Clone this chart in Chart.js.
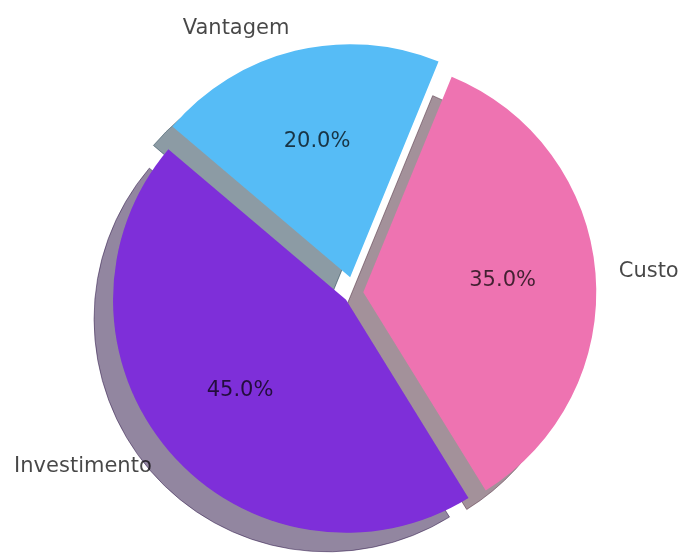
<!DOCTYPE html>
<html lang="pt">
<head>
  <meta charset="UTF-8" />
  <title>Pizza</title>
  <script src="https://cdn.jsdelivr.net/npm/chart.js"></script>
  <style>
    body { margin: 0; background: #fff; }
  </style>
</head>
<body>
  <canvas id="pie" width="684" height="556"></canvas>

  <script>
    const labels = ['Custo', 'Investimento', 'Vantagem'];
    const values = [35, 45, 20];
    const colors = ['#ee73b1', '#7e2fd9', '#56bcf6'];
    const explode = [0.04, 0.045, 0.07];

    const SHADOW_DX = -19;
    const SHADOW_DY = 19;
    const TEXT_COLOR = 'rgba(0,0,0,0.72)';
    const FONT = '21px "DejaVu Sans"';

    // matplotlib-style shadow: 0.3 * face colour, half transparent
    function shadowOf(hex) {
      const n = parseInt(hex.slice(1), 16);
      const r = Math.round(((n >> 16) & 255) * 0.3);
      const g = Math.round(((n >> 8) & 255) * 0.3);
      const b = Math.round((n & 255) * 0.3);
      return `rgba(${r},${g},${b},0.5)`;
    }

    function shift(arc, k) {
      const a = (arc.startAngle + arc.endAngle) / 2;
      const d = explode[k] * arc.outerRadius;
      return [Math.cos(a) * d, Math.sin(a) * d];
    }

    const explodePlugin = {
      id: 'explodeShadow',
      beforeDatasetDraw(chart, args) {
        const ctx = chart.ctx;
        const arcs = args.meta.data;
        // shadows first, under every wedge
        arcs.forEach((arc, k) => {
          const [dx, dy] = shift(arc, k);
          const sh = Object.create(arc);
          sh.options = Object.assign({}, arc.options, {
            backgroundColor: shadowOf(colors[k]),
            borderColor: shadowOf(colors[k]),
            borderWidth: 1
          });
          ctx.save();
          ctx.translate(dx + SHADOW_DX, dy + SHADOW_DY);
          sh.draw(ctx);
          ctx.restore();
        });
        arcs.forEach((arc, k) => {
          const [dx, dy] = shift(arc, k);
          ctx.save();
          ctx.translate(dx, dy);
          arc.draw(ctx);
          ctx.restore();
        });
        return false;
      },
      afterDatasetsDraw(chart) {
        const ctx = chart.ctx;
        const arcs = chart.getDatasetMeta(0).data;
        const total = values.reduce((s, v) => s + v, 0);
        ctx.save();
        ctx.font = FONT;
        ctx.fillStyle = TEXT_COLOR;
        ctx.textBaseline = 'middle';
        arcs.forEach((arc, k) => {
          const a = (arc.startAngle + arc.endAngle) / 2;
          const [dx, dy] = shift(arc, k);
          const cx = arc.x + dx, cy = arc.y + dy, r = arc.outerRadius;
          const lx = cx + Math.cos(a) * r * 1.1;
          const ly = cy + Math.sin(a) * r * 1.1;
          ctx.textAlign = Math.cos(a) > 0 ? 'left' : 'right';
          ctx.fillText(labels[k], lx, ly);
          ctx.textAlign = 'center';
          const pct = (values[k] / total * 100).toFixed(1) + '%';
          ctx.fillText(pct, cx + Math.cos(a) * r * 0.6, cy + Math.sin(a) * r * 0.6);
        });
        ctx.restore();
      }
    };

    new Chart(document.getElementById('pie'), {
      type: 'pie',
      data: {
        labels: labels,
        datasets: [{
          data: values,
          backgroundColor: colors,
          borderWidth: 0,
          radius: 233
        }]
      },
      options: {
        responsive: false,
        animation: false,
        devicePixelRatio: 1,
        rotation: 22.3,
        layout: { padding: { left: 24, top: 30 } },
        plugins: {
          legend: { display: false },
          tooltip: { enabled: false }
        }
      },
      plugins: [explodePlugin]
    });
  </script>
</body>
</html>
